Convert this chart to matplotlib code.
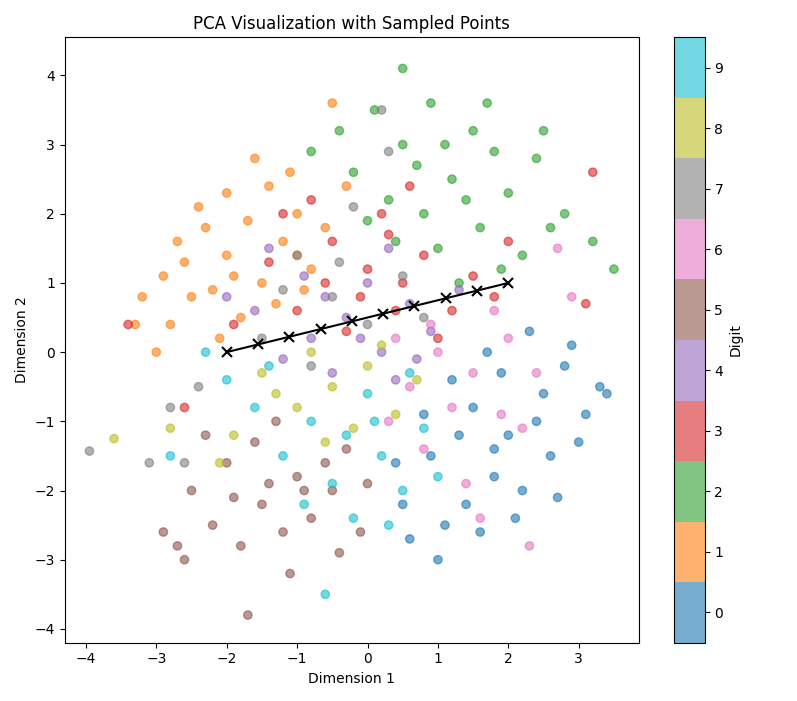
import matplotlib.pyplot as plt
import numpy as np

# points per digit
pts = {
0: [(1.5,-0.8),(2.0,-1.2),(1.2,-0.4),(2.5,-0.6),(1.8,-1.8),(0.9,-1.5),(2.8,-0.2),(3.1,-0.9),(1.4,-2.2),(2.2,-2.0),
    (0.6,-2.7),(1.0,-3.0),(2.6,-1.5),(3.3,-0.5),(1.7,0.0),(0.8,-0.9),(2.3,0.3),(1.1,-2.5),(3.0,-1.3),(1.9,-0.3),
    (2.4,-1.0),(1.3,-1.2),(0.5,-2.2),(2.7,-2.1),(1.6,-2.6),(3.4,-0.6),(2.9,0.1),(0.4,-1.6),(1.8,-1.4),(2.1,-2.4)],
1: [(-1.5,1.0),(-2.0,1.4),(-1.2,1.6),(-2.5,0.8),(-1.8,0.5),(-2.3,1.8),(-1.0,2.0),(-2.8,0.4),(-2.6,1.3),(-1.4,2.4),
    (-0.8,1.2),(-3.2,0.8),(-2.1,0.2),(-1.7,1.9),(-0.6,1.8),(-2.9,1.1),(-1.3,0.7),(-0.3,2.4),(-2.4,2.1),(-1.9,1.1),
    (-3.0,0.0),(-1.1,2.6),(-2.2,0.9),(-0.5,3.6),(-2.7,1.6),(-1.6,2.8),(-0.9,0.9),(-3.3,0.4),(-1.0,1.4),(-2.0,2.3)],
2: [(0.8,2.0),(1.2,2.5),(0.3,2.2),(1.6,1.8),(0.5,3.0),(2.0,2.3),(1.0,1.5),(-0.2,2.6),(1.5,3.2),(2.4,2.8),
    (0.1,3.5),(0.9,3.6),(2.6,1.8),(1.3,1.0),(-0.4,3.2),(1.8,2.9),(0.4,1.6),(2.2,1.4),(0.5,4.1),(1.7,3.6),
    (2.5,3.2),(3.2,1.6),(3.5,1.2),(0.0,1.9),(1.4,2.2),(0.7,2.7),(2.8,2.0),(-0.8,2.9),(1.9,1.2),(1.1,3.0)],
3: [(0.0,1.2),(-0.5,1.6),(0.5,1.0),(0.2,2.0),(-1.0,0.6),(0.8,1.4),(-0.3,0.3),(1.2,0.6),(-0.8,2.2),(0.6,2.4),
    (-1.4,1.3),(1.0,0.2),(-0.1,0.8),(0.3,1.7),(-1.9,0.4),(1.5,1.1),(-0.6,1.0),(2.0,1.6),(3.2,2.6),(-3.4,0.4),
    (-2.6,-0.8),(0.4,0.6),(-1.2,2.0),(1.8,0.8),(3.1,0.7)],
4: [(-0.3,0.5),(0.2,0.0),(-0.8,0.2),(0.6,0.7),(-1.2,-0.1),(0.0,1.0),(-0.5,-0.3),(0.9,0.3),(-1.6,0.6),(0.4,-0.4),
    (-0.9,1.1),(1.3,0.9),(-0.1,0.2),(-2.0,0.8),(0.7,-0.1),(-1.4,1.5),(0.3,1.5),(-0.6,0.8)],
5: [(-1.0,-1.8),(-1.5,-2.2),(-0.5,-2.0),(-2.0,-1.6),(-1.2,-2.6),(-0.3,-1.4),(-1.8,-2.8),(-2.5,-2.0),(-0.8,-2.4),(-1.6,-1.3),
    (-2.2,-2.5),(-0.1,-2.6),(-1.1,-3.2),(-2.7,-2.8),(-0.6,-1.6),(-1.9,-2.1),(-1.3,-1.0),(-0.4,-2.9),(-2.9,-2.6),(-1.7,-3.8),
    (0.0,-1.9),(-2.3,-1.2),(-1.4,-1.9),(-0.9,-2.0),(-2.6,-3.0)],
6: [(1.5,-0.3),(1.0,0.0),(2.0,0.2),(1.2,-0.8),(0.6,-0.5),(2.4,-0.3),(1.8,0.6),(0.8,-1.4),(2.7,1.5),(1.4,-1.9),
    (0.4,0.2),(2.2,-1.1),(1.6,-2.4),(2.3,-2.8),(2.9,0.8),(0.9,0.4),(1.9,-0.9),(0.3,-1.0)],
7: [(-0.5,0.8),(0.0,0.4),(-1.0,1.4),(-0.2,2.1),(0.5,1.1),(-1.5,0.2),(-0.8,-0.2),(0.2,3.5),(-2.4,-0.5),(-2.8,-0.8),
    (-3.1,-1.6),(-3.95,-1.43),(0.3,2.9),(-0.4,1.3),(-1.2,0.9),(0.8,0.5),(-2.6,-1.6)],
8: [(-0.5,-0.5),(0.0,-0.2),(-1.0,-0.8),(0.4,-0.9),(-1.5,-0.3),(-0.2,-1.1),(-0.8,0.0),(0.7,-0.4),(-1.9,-1.2),(-2.1,-1.6),
    (-3.6,-1.25),(-2.8,-1.1),(-0.6,-1.3),(0.2,0.1),(-1.3,-0.6)],
9: [(-0.3,-1.2),(0.2,-1.5),(-0.8,-1.0),(0.5,-2.0),(-1.2,-1.5),(0.0,-0.6),(-0.5,-1.9),(0.8,-1.1),(-1.6,-0.8),(0.3,-2.5),
    (-0.9,-2.2),(1.0,-1.8),(-2.0,-0.4),(-0.6,-3.5),(-0.2,-2.4),(-2.8,-1.5),(-1.4,-0.2),(0.6,-0.3),(-2.3,0.0),(0.1,-1.0)],
}

# sampled path
samp_x = np.array([-2.0, -1.556, -1.111, -0.667, -0.222, 0.222, 0.667, 1.111, 1.556, 2.0])
samp_y = np.array([0.0, 0.111, 0.222, 0.333, 0.444, 0.556, 0.667, 0.778, 0.889, 1.0])

xs, ys, cs = [], [], []
for d in pts:
    for x, y in pts[d]:
        xs.append(x)
        ys.append(y)
        cs.append(d)

plt.figure(figsize=(7.97, 7.01))
sc = plt.scatter(xs, ys, c=cs, cmap='tab10', alpha=0.6, vmin=-0.5, vmax=9.5)
cb = plt.colorbar(sc, ticks=range(10))
cb.set_label('Digit')
plt.plot(samp_x, samp_y, 'k-', marker='x', markersize=7, mew=1.5)
plt.title('PCA Visualization with Sampled Points')
plt.xlabel('Dimension 1')
plt.ylabel('Dimension 2')
plt.xlim(-4.3, 3.85)
plt.ylim(-4.2, 4.55)
plt.tight_layout()
plt.savefig('out.png', dpi=100)
